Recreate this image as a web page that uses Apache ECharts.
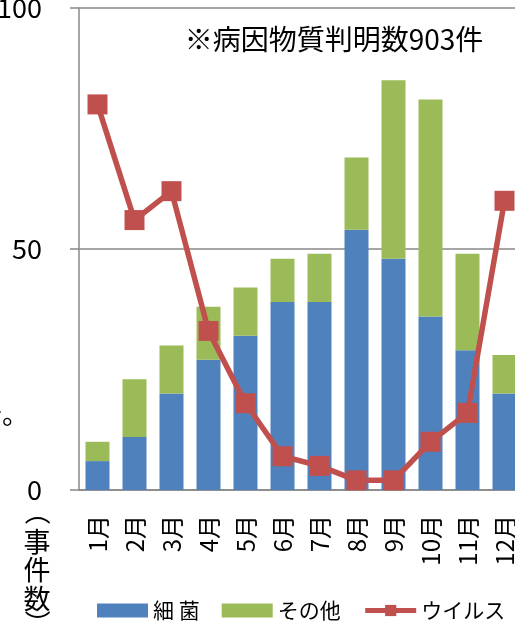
<!DOCTYPE html>
<html><head><meta charset="utf-8">
<script src="https://cdn.jsdelivr.net/npm/echarts@6/dist/echarts.min.js"></script>
<style>html,body{margin:0;padding:0;background:#fff;overflow:hidden}#c{width:515px;height:621px}</style>
</head><body><div id="c"></div>
<script>
const months = ['1月','2月','3月','4月','5月','6月','7月','8月','9月','10月','11月','12月'];
const bacteria = [6, 11, 20, 27, 32, 39, 39, 54, 48, 36, 29, 20];
const others = [4, 12, 10, 11, 10, 9, 10, 15, 37, 45, 20, 8];
const virus = [80, 56, 62, 33, 18, 7, 5, 2, 2, 10, 16, 60];
const yTicks = [0, 50, 100];
const seriesNames = ['細 菌', 'その他', 'ウイルス'];
const titleText = '※病因物質判明数903件';
const unitText = '事\n件\n数';
const clippedText = 'で。';

const FONT = '"Noto Sans CJK JP", "Noto Sans", sans-serif';
const AX = '#888888';
const chart = echarts.init(document.getElementById('c'), null, {renderer: 'canvas'});
chart.setOption({
  animation: false,
  backgroundColor: '#ffffff',
  textStyle: {fontFamily: FONT},
  grid: {left: 79, top: 8, width: 444, height: 482, containLabel: false, outerBoundsMode: 'none'},
  xAxis: {
    type: 'category', data: months, boundaryGap: true,
    axisLine: {lineStyle: {color: AX, width: 1.5}},
    axisTick: {length: 8, lineStyle: {color: AX, width: 1.5}},
    axisLabel: {rotate: 90, margin: 25, fontSize: 24, color: '#000', fontFamily: FONT, interval: 0}
  },
  yAxis: {
    type: 'value', min: yTicks[0], max: yTicks[yTicks.length - 1], interval: yTicks[1] - yTicks[0],
    axisLine: {show: true, lineStyle: {color: AX, width: 1.5}},
    axisTick: {show: true, length: 9, lineStyle: {color: AX, width: 1.5}},
    axisLabel: {margin: 37, fontSize: 27, color: '#000', fontFamily: FONT},
    splitLine: {show: true, lineStyle: {color: AX, width: 1.5}}
  },
  legend: {
    left: 97, top: 600, width: 480, padding: 0, itemWidth: 51, itemHeight: 14, itemGap: 22,
    textStyle: {fontSize: 21, color: '#000', fontFamily: FONT},
    lineStyle: {width: 5},
    data: [
      {name: seriesNames[0], icon: 'rect'},
      {name: seriesNames[1], icon: 'rect'},
      {name: seriesNames[2]}
    ]
  },
  graphic: [
    {type: 'text', style: {text: titleText, x: 334, y: 39, align: 'center', verticalAlign: 'middle', fontSize: 28, fontFamily: FONT, fill: '#000'}},
    {type: 'text', x: 38, y: 512, rotation: -Math.PI / 2, style: {text: '（', x: 0, y: 0, align: 'center', verticalAlign: 'middle', fontSize: 26, fontFamily: FONT, fill: '#000'}},
    {type: 'text', style: {text: unitText, x: 37, y: 527, align: 'center', verticalAlign: 'top', fontSize: 27, lineHeight: 28.5, fontFamily: FONT, fill: '#000'}},
    {type: 'text', x: 38, y: 623, rotation: -Math.PI / 2, style: {text: '）', x: 0, y: 0, align: 'center', verticalAlign: 'middle', fontSize: 26, fontFamily: FONT, fill: '#000'}},
    {type: 'text', style: {text: clippedText, x: 29, y: 414, align: 'right', verticalAlign: 'middle', fontSize: 27, fontFamily: FONT, fill: '#000'}}
  ],
  series: [
    {name: seriesNames[0], type: 'bar', stack: 'total', data: bacteria, barWidth: 24,
     itemStyle: {color: '#4F81BD'}},
    {name: seriesNames[1], type: 'bar', stack: 'total', data: others, barWidth: 24,
     itemStyle: {color: '#9BBB59'}},
    {name: seriesNames[2], type: 'line', data: virus, symbol: 'rect', symbolSize: 20, z: 5,
     lineStyle: {color: '#C0504D', width: 5.5}, itemStyle: {color: '#C0504D'}}
  ]
});
</script></body></html>
